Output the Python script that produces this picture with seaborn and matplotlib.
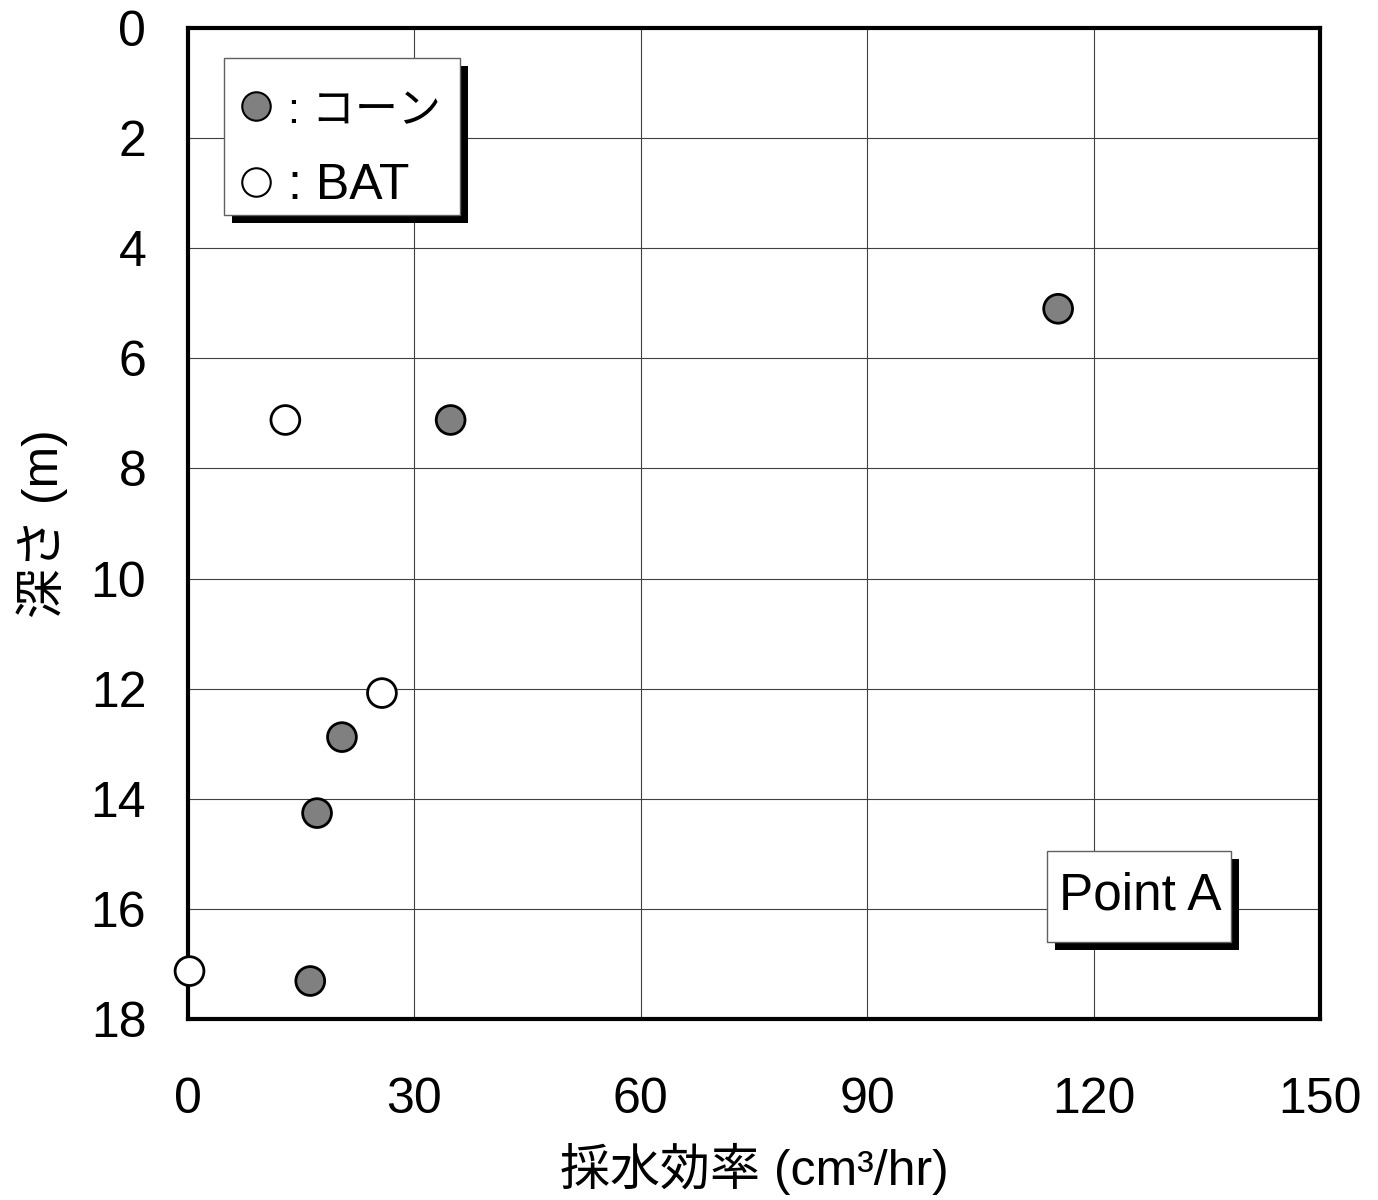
import matplotlib
matplotlib.use("Agg")
import matplotlib.pyplot as plt
import matplotlib.patheffects as pe
from matplotlib.lines import Line2D
from matplotlib.patches import Rectangle
import seaborn as sns
import pandas as pd

# ---- data ----
cone_rate = [115.3, 34.8, 20.4, 17.1, 16.2]
cone_depth = [5.10, 7.12, 12.88, 14.26, 17.31]
bat_rate = [12.9, 25.7, 0.2]
bat_depth = [7.12, 12.08, 17.13]
x_ticks = [0, 30, 60, 90, 120, 150]
y_ticks = [0, 2, 4, 6, 8, 10, 12, 14, 16, 18]
label_cone = "コーン"
label_bat = "BAT"

df = pd.DataFrame({
    "rate": cone_rate + bat_rate,
    "depth": cone_depth + bat_depth,
    "type": [label_cone] * len(cone_rate) + [label_bat] * len(bat_rate),
})

sns.set_style("white")
FAM = ["Liberation Sans", "Noto Sans CJK JP", "DejaVu Sans"]
plt.rcParams["font.family"] = FAM
for k in ["text.color", "axes.labelcolor", "xtick.color", "ytick.color"]:
    plt.rcParams[k] = "black"

W, H = 1378, 1200
fig = plt.figure(figsize=(W / 100, H / 100), dpi=100)
AX_L, AX_R, AX_T, AX_B = 188, 1320, 28, 1019
ax = fig.add_axes([AX_L / W, 1 - AX_B / H, (AX_R - AX_L) / W, (AX_B - AX_T) / H])


def ax_x(px):
    return (px - AX_L) / (AX_R - AX_L)


def ax_y(py):
    return 1 - (py - AX_T) / (AX_B - AX_T)


sns.scatterplot(data=df, x="rate", y="depth", hue="type",
                palette={label_cone: "#808080", label_bat: "white"},
                edgecolor="black", linewidth=2.0, s=430, ax=ax,
                legend=False, zorder=10, clip_on=False)

ax.set_xlim(0, 150)
ax.set_ylim(18, 0)
ax.set_xticks(x_ticks)
ax.set_yticks(y_ticks)
ax.grid(True, color="#404040", linewidth=0.8)
ax.set_axisbelow(True)
for sp in ax.spines.values():
    sp.set_linewidth(3.0)
    sp.set_color("black")
    sp.set_zorder(5)
ax.tick_params(axis="both", length=0, labelsize=36, colors="black")
ax.tick_params(axis="x", pad=42)
ax.tick_params(axis="y", pad=30)

ax.set_xlabel("採水効率 (cm³/hr)", fontsize=36, labelpad=14)
ax.set_ylabel("深さ (m)", fontsize=36, labelpad=16)

shadow = [pe.SimplePatchShadow(offset=(6, -6), shadow_rgbFace="black", alpha=1.0),
          pe.Normal()]

# legend box
lbox = Rectangle((ax_x(224), ax_y(215)), ax_x(460) - ax_x(224), ax_y(58) - ax_y(215),
                 transform=ax.transAxes, facecolor="white", edgecolor="#606060",
                 linewidth=1.0, zorder=15, clip_on=False)
lbox.set_path_effects(shadow)
ax.add_patch(lbox)

handles = [
    Line2D([], [], marker="o", linestyle="none", markersize=20.5,
           markerfacecolor="#808080", markeredgecolor="black", markeredgewidth=1.5),
    Line2D([], [], marker="o", linestyle="none", markersize=20.5,
           markerfacecolor="white", markeredgecolor="black", markeredgewidth=1.5),
]
leg = ax.legend(handles, [": " + label_cone, ": " + label_bat],
                loc="upper left", bbox_to_anchor=(ax_x(241), ax_y(88)),
                borderaxespad=0, borderpad=0, fontsize=36, frameon=False,
                handlelength=0.6, handletextpad=0.35, labelspacing=0.62)
leg.get_texts()[0].set_fontsize(31)
leg.set_zorder(20)

# Point A label
pbox = Rectangle((ax_x(1047), ax_y(942)), ax_x(1231) - ax_x(1047), ax_y(851) - ax_y(942),
                 transform=ax.transAxes, facecolor="white", edgecolor="#606060",
                 linewidth=1.0, zorder=15, clip_on=False)
pbox.set_path_effects(shadow)
ax.add_patch(pbox)
ax.text(ax_x(1140), ax_y(896), "Point A", transform=ax.transAxes, fontsize=37,
        ha="center", va="center", zorder=20)

fig.savefig("out.png", dpi=100, facecolor="white")
